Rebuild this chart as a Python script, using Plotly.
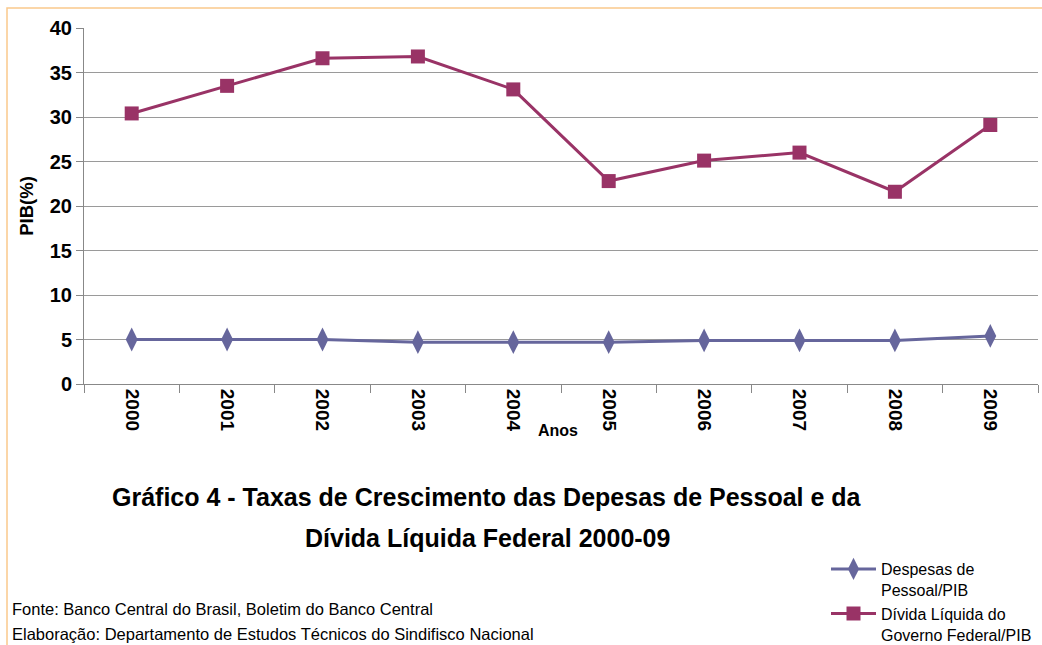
import plotly.graph_objects as go

anos = ["2000", "2001", "2002", "2003", "2004", "2005", "2006", "2007", "2008", "2009"]
despesas = [5.0, 5.0, 5.0, 4.7, 4.7, 4.7, 4.9, 4.9, 4.9, 5.4]
divida = [30.4, 33.5, 36.6, 36.8, 33.1, 22.8, 25.1, 26.0, 21.6, 29.1]
y_ticks = [0, 5, 10, 15, 20, 25, 30, 35, 40]

W, H = 1042, 645
L, R, T, B = 84, 4, 28, 261
pw, ph = W - L - R, H - T - B

def px(x):
    return (x - L) / pw

def py(y):
    return (H - B - y) / ph

fig = go.Figure()
fig.add_trace(go.Scatter(
    x=anos, y=despesas, mode="lines+markers",
    name="Despesas de<br>Pessoal/PIB",
    line=dict(color="#66669c", width=3),
    marker=dict(symbol="diamond-tall", size=17, color="#66669c"),
))
fig.add_trace(go.Scatter(
    x=anos, y=divida, mode="lines+markers",
    name="Dívida Líquida do<br>Governo Federal/PIB",
    line=dict(color="#993366", width=3),
    marker=dict(symbol="square", size=14, color="#993366"),
))

fig.update_layout(
    width=W, height=H, autosize=False,
    margin=dict(l=L, r=R, t=T, b=B, pad=0, autoexpand=False),
    paper_bgcolor="white", plot_bgcolor="white",
    font=dict(family="Liberation Sans, Arial, sans-serif", color="black"),
    showlegend=True,
    legend=dict(
        xref="container", yref="container",
        x=826 / W, y=1 - 552 / H, xanchor="left", yanchor="top",
        font=dict(size=16, family="Liberation Sans, Arial"),
        bgcolor="rgba(0,0,0,0)", tracegroupgap=0, itemwidth=45,
        valign="top",
    ),
    xaxis=dict(
        type="category", range=[-0.5, 9.5], tickson="boundaries",
        ticks="outside", ticklen=8, tickcolor="#888888",
        showline=True, linecolor="#888888", linewidth=1,
        showgrid=False, tickangle=90, automargin=False,
        tickfont=dict(size=19, family="Liberation Sans, Arial", weight="bold"),
        fixedrange=True,
    ),
    yaxis=dict(
        range=[0, 40], tickvals=y_ticks, ticks="outside", ticklen=7,
        tickcolor="#888888", showline=True, linecolor="#888888",
        gridcolor="#9a9a9a", gridwidth=1, zeroline=False, automargin=False,
        tickfont=dict(size=20, family="Liberation Sans, Arial", weight="bold"),
        title=dict(text="PIB(%)", font=dict(size=18.5, weight="bold"), standoff=11),
    ),
    annotations=[
        dict(text="Anos", x=px(558), y=py(441), xref="paper", yref="paper",
             showarrow=False, font=dict(size=16, weight="bold",
             family="Liberation Sans Narrow, Liberation Sans, Arial")),
        dict(text="Gráfico 4 - Taxas de Crescimento das Depesas de Pessoal e da",
             x=px(487), y=py(497), xref="paper", yref="paper", showarrow=False,
             xanchor="center", yanchor="middle",
             font=dict(size=25, weight="bold",
                       family="Liberation Sans Narrow, Liberation Sans, Arial")),
        dict(text="Dívida Líquida Federal 2000-09",
             x=px(487), y=py(538), xref="paper", yref="paper", showarrow=False,
             xanchor="center", yanchor="middle",
             font=dict(size=25, weight="bold",
                       family="Liberation Sans Narrow, Liberation Sans, Arial")),
        dict(text="Fonte: Banco Central do Brasil, Boletim do Banco Central",
             x=px(10), y=py(609), xref="paper", yref="paper", showarrow=False,
             xanchor="left", yanchor="middle", font=dict(size=16.5)),
        dict(text="Elaboração: Departamento de Estudos Técnicos do Sindifisco Nacional",
             x=px(10), y=py(634), xref="paper", yref="paper", showarrow=False,
             xanchor="left", yanchor="middle", font=dict(size=16.5)),
    ],
    shapes=[
        dict(type="rect", xref="paper", yref="paper",
             x0=px(7), x1=px(1060), y0=py(680), y1=py(8),
             line=dict(color="#fac98c", width=1.5), layer="below"),
    ],
)

fig.write_html(
    "out.html",
    config={"responsive": False, "displayModeBar": False},
    post_script="document.body.style.margin='0';document.body.style.overflow='hidden';",
)
